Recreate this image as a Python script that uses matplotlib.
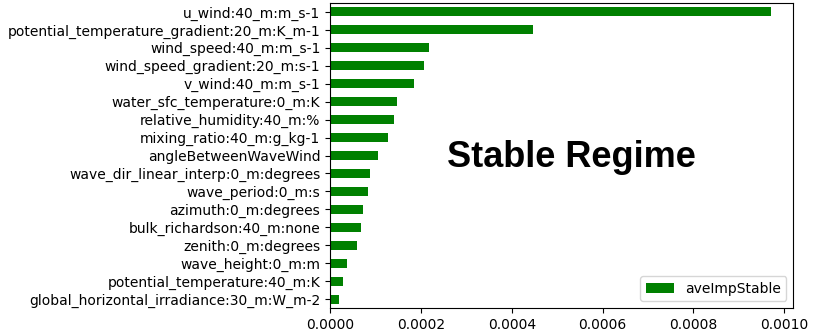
import numpy as np
import matplotlib
matplotlib.use('Agg')
import matplotlib.pyplot as plt

# features from top to bottom, as they appear in the chart
features = [
    'u_wind:40_m:m_s-1',
    'potential_temperature_gradient:20_m:K_m-1',
    'wind_speed:40_m:m_s-1',
    'wind_speed_gradient:20_m:s-1',
    'v_wind:40_m:m_s-1',
    'water_sfc_temperature:0_m:K',
    'relative_humidity:40_m:%',
    'mixing_ratio:40_m:g_kg-1',
    'angleBetweenWaveWind',
    'wave_dir_linear_interp:0_m:degrees',
    'wave_period:0_m:s',
    'azimuth:0_m:degrees',
    'bulk_richardson:40_m:none',
    'zenith:0_m:degrees',
    'wave_height:0_m:m',
    'potential_temperature:40_m:K',
    'global_horizontal_irradiance:30_m:W_m-2',
]
ave_imp_stable = [
    0.000970, 0.000446, 0.000217, 0.000206, 0.000184, 0.000147,
    0.000141, 0.000127, 0.000106, 0.0000880, 0.0000845, 0.0000720,
    0.0000683, 0.0000602, 0.0000381, 0.0000293, 0.0000205,
]

fig = plt.figure(figsize=(8.17, 3.33), dpi=100)
ax = fig.add_axes([0.404, 0.075, 0.567, 0.916])

ypos = np.arange(len(features))[::-1]
ax.barh(ypos, ave_imp_stable, height=0.5, color='green', label='aveImpStable')
ax.set_yticks(ypos)
ax.set_yticklabels(features, fontsize=10)
ax.set_ylim(-0.5, len(features) - 0.5)
ax.set_xlim(0, 0.00102)
ax.set_xticks([0, 0.0002, 0.0004, 0.0006, 0.0008, 0.0010])
ax.set_xticklabels(['0.0000', '0.0002', '0.0004', '0.0006', '0.0008', '0.0010'], fontsize=10)
ax.legend(loc='lower right', fontsize=10)

fig.text(0.699, 0.528, 'Stable Regime', fontsize=26, fontweight='bold',
         family='Liberation Sans', ha='center', va='center')

fig.savefig('out.png', dpi=100)
